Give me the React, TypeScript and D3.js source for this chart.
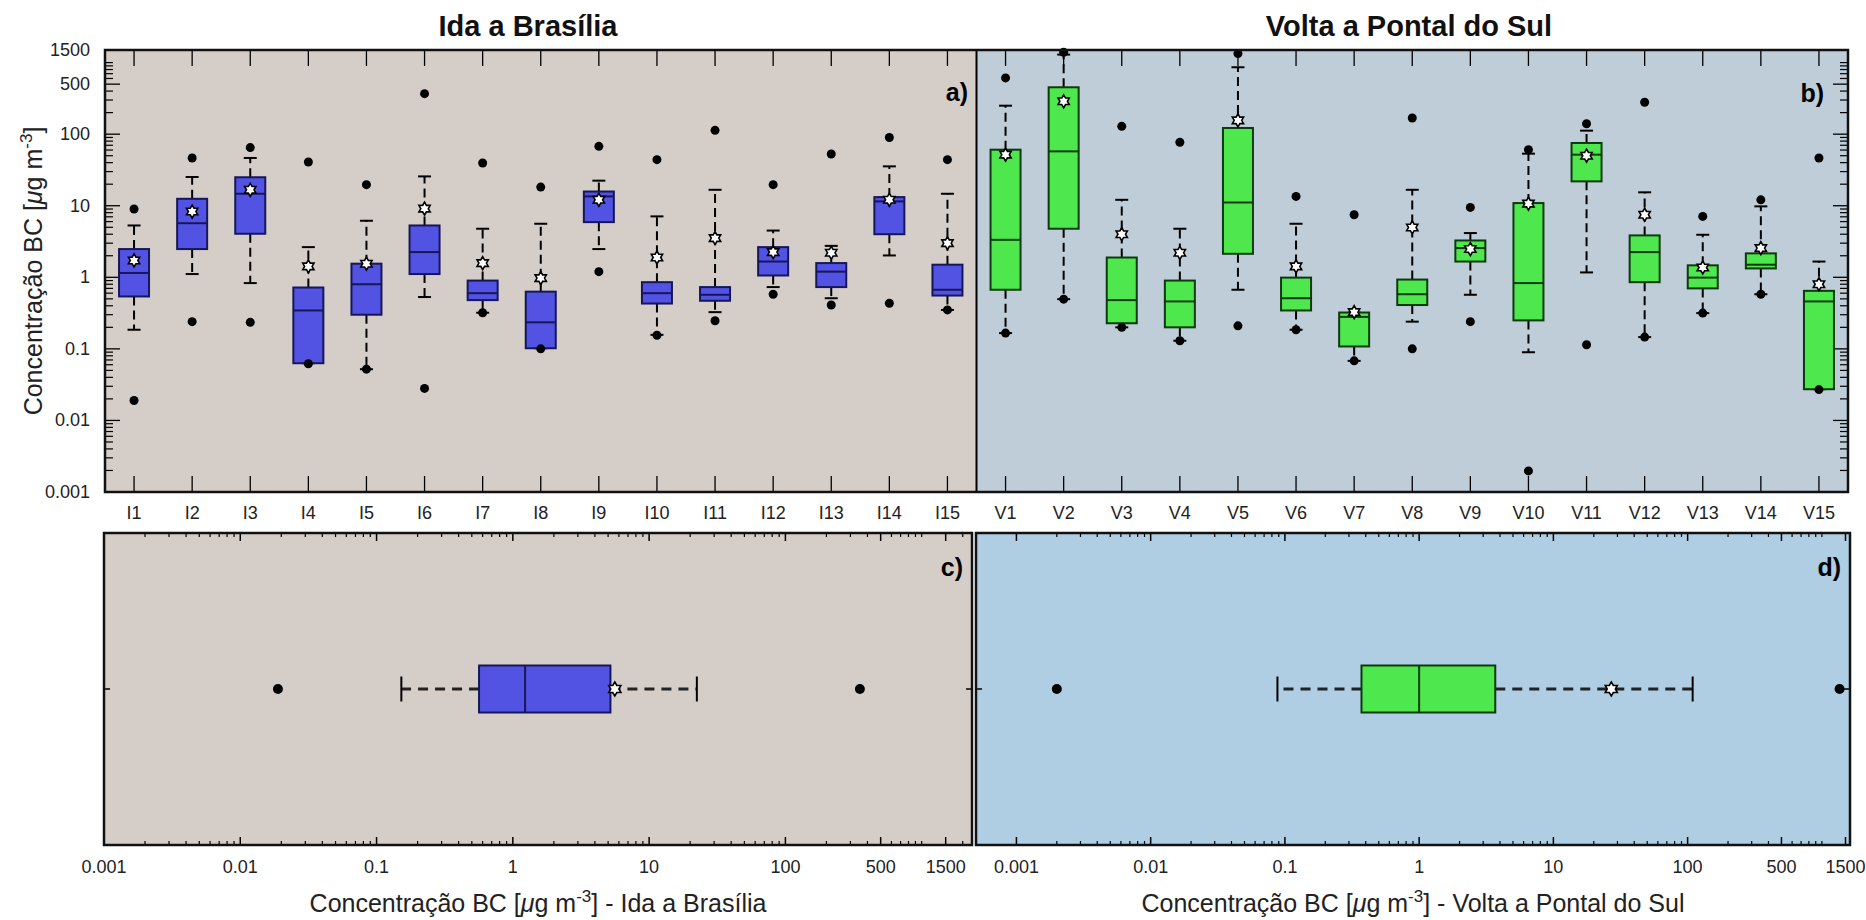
import React from "react";
import * as d3 from "d3";

// ---------------- DATA ----------------
const idaCats = ["I1","I2","I3","I4","I5","I6","I7","I8","I9","I10","I11","I12","I13","I14","I15"];
const voltaCats = ["V1","V2","V3","V4","V5","V6","V7","V8","V9","V10","V11","V12","V13","V14","V15"];

const idaMin = [0.019, 0.24, 0.235, 0.062, 0.052, 0.028, 0.32, 0.1, 1.2, 0.155, 0.247, 0.58, 0.41, 0.434, 0.35];
const idaWLow = [0.185, 1.11, 0.83, 0.063, 0.052, 0.53, 0.32, 0.102, 2.48, 0.157, 0.326, 0.73, 0.51, 2.02, 0.35];
const idaQ1 = [0.54, 2.48, 4.06, 0.063, 0.3, 1.11, 0.48, 0.102, 5.9, 0.43, 0.47, 1.06, 0.73, 4.0, 0.556];
const idaMedian = [1.15, 5.7, 14.7, 0.344, 0.8, 2.25, 0.6, 0.235, 13.5, 0.6, 0.57, 1.66, 1.2, 11.5, 0.67];
const idaQ3 = [2.48, 12.5, 25, 0.72, 1.55, 5.3, 0.9, 0.63, 15.8, 0.855, 0.73, 2.64, 1.58, 13.2, 1.5];
const idaWHigh = [5.3, 25.2, 46.5, 2.64, 6.17, 25.7, 4.77, 5.6, 22.4, 7.1, 16.7, 4.5, 2.75, 35.5, 14.7];
const idaMax = [9.0, 46.5, 65, 40.8, 19.7, 368, 39.5, 18.2, 67.6, 44, 113, 19.7, 52.8, 90, 44];
const idaMean = [1.72, 8.3, 16.7, 1.42, 1.55, 9.1, 1.58, 0.975, 12.1, 1.89, 3.53, 2.25, 2.2, 12.1, 3.0];

const voltaMin = [0.166, 0.495, 0.2, 0.13, 0.21, 0.185, 0.068, 0.1, 0.24, 0.00197, 0.114, 0.146, 0.316, 0.58, 0.027];
const voltaWLow = [0.166, 0.495, 0.2, 0.13, 0.67, 0.185, 0.068, 0.24, 0.57, 0.0897, 1.17, 0.146, 0.316, 0.58, 0.0273];
const voltaQ1 = [0.67, 4.77, 0.228, 0.2, 2.13, 0.344, 0.108, 0.41, 1.66, 0.25, 21.9, 0.855, 0.7, 1.33, 0.0273];
const voltaMedian = [3.34, 57.5, 0.48, 0.46, 11.1, 0.51, 0.28, 0.58, 2.56, 0.83, 51.7, 2.25, 0.99, 1.5, 0.46];
const voltaQ3 = [60.7, 452, 1.89, 0.9, 122, 0.99, 0.322, 0.93, 3.27, 10.9, 75.3, 3.85, 1.47, 2.16, 0.647];
const voltaWHigh = [250, 1294, 12.1, 4.77, 861, 5.6, 0.322, 16.7, 4.15, 53.4, 112, 15.4, 3.93, 9.8, 1.66];
const voltaMax = [611, 1393, 128.6, 77, 1336, 13.5, 7.48, 168, 9.47, 60.7, 140, 279, 7.1, 12.1, 46.5];
const voltaMean = [51.7, 288, 4.0, 2.2, 156, 1.42, 0.326, 4.97, 2.48, 10.7, 50, 7.48, 1.37, 2.56, 0.8];

// overall summaries (panels c and d): min, whiskerLow, q1, median, q3, whiskerHigh, max, mean
const idaTotal = [0.0189, 0.152, 0.565, 1.23, 5.2, 22.4, 352, 5.6];
const voltaTotal = [0.002, 0.088, 0.372, 1.0, 3.69, 109, 1355, 27];

const majorTicks = [0.001, 0.01, 0.1, 1, 10, 100, 500, 1500];
const majorLabels = ["0.001", "0.01", "0.1", "1", "10", "100", "500", "1500"];

const titleIda = "Ida a Brasília";
const titleVolta = "Volta a Pontal do Sul";

// ---------------- STYLE ----------------
const FONT = "'Liberation Sans', Arial, Helvetica, sans-serif";
const BG_A = "#d5cec8";
const BG_B = "#bfcdd8";
const BG_D = "#afcde3";
const BLUE = "#5353e3";
const BLUE_S = "#16165a";
const GREEN = "#4ee84e";
const GREEN_S = "#0c3a0c";

function buildStats(cats, mn, wl, q1, md, q3, wh, mx, me) {
  return cats.map((c, i) => ({
    cat: c, min: mn[i], wLow: wl[i], q1: q1[i], median: md[i], q3: q3[i], wHigh: wh[i], max: mx[i], mean: me[i],
  }));
}

function minorTicks(domain) {
  const out = [];
  for (let e = -4; e <= 3; e++) {
    for (let k = 1; k <= 9; k++) {
      const v = k * Math.pow(10, e);
      if (v < domain[0] * 0.9999 || v > domain[1] * 1.0001) continue;
      if (v < 0.001 * 0.9999) continue;
      if (majorTicks.some((m) => Math.abs(v - m) / m < 1e-6)) continue;
      out.push(v);
    }
  }
  return out;
}

function hexagram(cx, cy, R) {
  const r = R / Math.sqrt(3);
  const pts = [];
  for (let i = 0; i < 12; i++) {
    const a = (-90 + i * 30) * Math.PI / 180;
    const rad = i % 2 === 0 ? R : r;
    pts.push([cx + rad * Math.cos(a), cy + rad * Math.sin(a)]);
  }
  return "M" + pts.map((p) => p[0].toFixed(2) + "," + p[1].toFixed(2)).join("L") + "Z";
}

export default function App() {
  const allCats = [...idaCats, ...voltaCats];
  const top = 50, bottom = 492, left = 105, right = 1848;
  const x = d3.scaleBand().domain(allCats).range([left, right]).padding(0);
  const y = d3.scaleLog().domain([0.001, 1500]).range([bottom, top]);
  const split = x("V1");

  const idaStats = buildStats(idaCats, idaMin, idaWLow, idaQ1, idaMedian, idaQ3, idaWHigh, idaMax, idaMean);
  const voltaStats = buildStats(voltaCats, voltaMin, voltaWLow, voltaQ1, voltaMedian, voltaQ3, voltaWHigh, voltaMax, voltaMean);

  const bTop = 533, bBot = 845;
  const xc = d3.scaleLog().domain([0.001, 2340]).range([104, 972]);
  const xd = d3.scaleLog().domain([0.0005, 1620]).range([976, 1850]);

  const boxW = 30;
  const capW = 13;

  const renderBox = (s, fill, stroke) => {
    const cx = x(s.cat) + x.bandwidth() / 2;
    return (
      <g key={s.cat}>
        <line x1={cx} x2={cx} y1={y(s.q3)} y2={y(s.wHigh)} stroke="#000" strokeWidth={2} strokeDasharray="9 5" />
        <line x1={cx} x2={cx} y1={y(s.q1)} y2={y(s.wLow)} stroke="#000" strokeWidth={2} strokeDasharray="9 5" />
        <line x1={cx - capW / 2} x2={cx + capW / 2} y1={y(s.wHigh)} y2={y(s.wHigh)} stroke="#000" strokeWidth={2} />
        <line x1={cx - capW / 2} x2={cx + capW / 2} y1={y(s.wLow)} y2={y(s.wLow)} stroke="#000" strokeWidth={2} />
        <rect x={cx - boxW / 2} y={y(s.q3)} width={boxW} height={y(s.q1) - y(s.q3)} fill={fill} stroke={stroke} strokeWidth={2} />
        <line x1={cx - boxW / 2} x2={cx + boxW / 2} y1={y(s.median)} y2={y(s.median)} stroke={stroke} strokeWidth={2} />
        <circle cx={cx} cy={y(s.max)} r={4.5} fill="#000" />
        <circle cx={cx} cy={y(s.min)} r={4.5} fill="#000" />
        <path d={hexagram(cx, y(s.mean), 6.5)} fill="#fff" stroke="#000" strokeWidth={1.6} />
      </g>
    );
  };

  const renderHBox = (vals, sc, fill, stroke) => {
    const [mn, wl, q1, md, q3, wh, mx, me] = vals;
    const cy = (bTop + bBot) / 2;
    const h = 47;
    return (
      <g>
        <line x1={sc(q1)} x2={sc(wl)} y1={cy} y2={cy} stroke="#222" strokeWidth={3} strokeDasharray="10 7" />
        <line x1={sc(q3)} x2={sc(wh)} y1={cy} y2={cy} stroke="#222" strokeWidth={3} strokeDasharray="10 7" />
        <line x1={sc(wl)} x2={sc(wl)} y1={cy - 12.5} y2={cy + 12.5} stroke="#000" strokeWidth={2} />
        <line x1={sc(wh)} x2={sc(wh)} y1={cy - 12.5} y2={cy + 12.5} stroke="#000" strokeWidth={2} />
        <rect x={sc(q1)} y={cy - h / 2} width={sc(q3) - sc(q1)} height={h} fill={fill} stroke={stroke} strokeWidth={2} />
        <line x1={sc(md)} x2={sc(md)} y1={cy - h / 2} y2={cy + h / 2} stroke={stroke} strokeWidth={2} />
        <circle cx={sc(mn)} cy={cy} r={5} fill="#000" />
        <circle cx={sc(mx)} cy={cy} r={5} fill="#000" />
        <path d={hexagram(sc(me), cy, 7)} fill="#fff" stroke="#000" strokeWidth={1.6} />
      </g>
    );
  };

  const renderHAxis = (sc, x0, x1, bg, label, tag) => {
    const dom = sc.domain();
    const minors = minorTicks(dom);
    const majors = majorTicks.filter((m) => m >= dom[0] && m <= dom[1]);
    const cy = (bTop + bBot) / 2;
    return (
      <g>
        <rect x={x0} y={bTop} width={x1 - x0} height={bBot - bTop} fill={bg} />
        {minors.map((v, i) => (
          <g key={"mi" + i}>
            <line x1={sc(v)} x2={sc(v)} y1={bBot} y2={bBot - 4} stroke="#000" strokeWidth={1.2} />
            <line x1={sc(v)} x2={sc(v)} y1={bTop} y2={bTop + 4} stroke="#000" strokeWidth={1.2} />
          </g>
        ))}
        {majors.map((v, i) => (
          <g key={"ma" + i}>
            <line x1={sc(v)} x2={sc(v)} y1={bBot} y2={bBot - 8} stroke="#000" strokeWidth={1.5} />
            <line x1={sc(v)} x2={sc(v)} y1={bTop} y2={bTop + 8} stroke="#000" strokeWidth={1.5} />
            <text x={sc(v)} y={873} textAnchor="middle" fontSize={18} fontFamily={FONT} fill="#222">
              {majorLabels[majorTicks.indexOf(v)]}
            </text>
          </g>
        ))}
        <line x1={x0} x2={x0 + 6} y1={cy} y2={cy} stroke="#000" strokeWidth={1.5} />
        <line x1={x1} x2={x1 - 6} y1={cy} y2={cy} stroke="#000" strokeWidth={1.5} />
        <text x={(x0 + x1) / 2} y={912} textAnchor="middle" fontSize={25} fontFamily={FONT} fill="#222">
          Concentração BC [<tspan fontStyle="italic">μ</tspan>g m
          <tspan fontSize={17} dy={-10}>-3</tspan>
          <tspan dy={10}>] - {label}</tspan>
        </text>
        <text x={x1 - 9} y={576} textAnchor="end" fontSize={25} fontWeight="bold" fontFamily={FONT} fill="#000">{tag}</text>
      </g>
    );
  };

  const yMinors = minorTicks(y.domain());

  return (
    <svg width={1866} height={920} style={{ position: "absolute", left: 0, top: 0, background: "#fff" }}>
      {/* titles */}
      <text x={528} y={36} textAnchor="middle" fontSize={29} fontWeight="bold" fontFamily={FONT} fill="#111">{titleIda}</text>
      <text x={1409} y={36} textAnchor="middle" fontSize={29} fontWeight="bold" fontFamily={FONT} fill="#111">{titleVolta}</text>

      {/* top panel backgrounds */}
      <rect x={left} y={top} width={split - left} height={bottom - top} fill={BG_A} />
      <rect x={split} y={top} width={right - split} height={bottom - top} fill={BG_B} />

      {/* y ticks */}
      {yMinors.map((v, i) => (
        <g key={"ym" + i}>
          <line x1={left} x2={left + 8} y1={y(v)} y2={y(v)} stroke="#000" strokeWidth={1.2} />
          <line x1={right} x2={right - 8} y1={y(v)} y2={y(v)} stroke="#000" strokeWidth={1.2} />
        </g>
      ))}
      {majorTicks.map((v, i) => (
        <g key={"yM" + i}>
          <line x1={left} x2={left + 15} y1={y(v)} y2={y(v)} stroke="#000" strokeWidth={1.3} />
          <line x1={right} x2={right - 15} y1={y(v)} y2={y(v)} stroke="#000" strokeWidth={1.3} />
          <text x={90} y={y(v) + 6} textAnchor="end" fontSize={18} fontFamily={FONT} fill="#222">{majorLabels[i]}</text>
        </g>
      ))}

      {/* category ticks and labels */}
      {allCats.map((c) => {
        const cx = x(c) + x.bandwidth() / 2;
        return (
          <g key={"ct" + c}>
            <line x1={cx} x2={cx} y1={top} y2={top + 16} stroke="#000" strokeWidth={1.3} />
            <line x1={cx} x2={cx} y1={bottom} y2={bottom - 16} stroke="#000" strokeWidth={1.3} />
            <text x={cx} y={519} textAnchor="middle" fontSize={18} fontFamily={FONT} fill="#222">{c}</text>
          </g>
        );
      })}

      {idaStats.map((s) => renderBox(s, BLUE, BLUE_S))}
      {voltaStats.map((s) => renderBox(s, GREEN, GREEN_S))}

      <line x1={split} x2={split} y1={top} y2={bottom} stroke="#000" strokeWidth={2} />
      <rect x={left} y={top} width={right - left} height={bottom - top} fill="none" stroke="#111" strokeWidth={2.5} />

      <text x={968} y={101} textAnchor="end" fontSize={25} fontWeight="bold" fontFamily={FONT} fill="#000">a)</text>
      <text x={1824} y={102} textAnchor="end" fontSize={25} fontWeight="bold" fontFamily={FONT} fill="#000">b)</text>

      {/* y axis label */}
      <text transform="translate(42,271) rotate(-90)" textAnchor="middle" fontSize={25} fontFamily={FONT} fill="#222">
        Concentração  BC [<tspan fontStyle="italic">μ</tspan>g m
        <tspan fontSize={17} dy={-10}>-3</tspan>
        <tspan dy={10}>]</tspan>
      </text>

      {/* bottom panels */}
      {renderHAxis(xc, 104, 972, BG_A, titleIda, "c)")}
      {renderHBox(idaTotal, xc, BLUE, BLUE_S)}
      <rect x={104} y={bTop} width={972 - 104} height={bBot - bTop} fill="none" stroke="#111" strokeWidth={2.5} />

      {renderHAxis(xd, 976, 1850, BG_D, titleVolta, "d)")}
      {renderHBox(voltaTotal, xd, GREEN, GREEN_S)}
      <rect x={976} y={bTop} width={1850 - 976} height={bBot - bTop} fill="none" stroke="#111" strokeWidth={2.5} />
    </svg>
  );
}
